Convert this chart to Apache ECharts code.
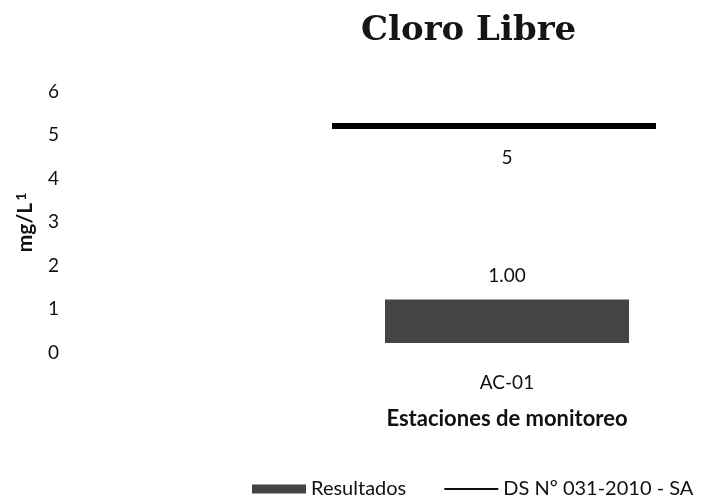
<!DOCTYPE html>
<html>
<head>
<meta charset="utf-8">
<script src="https://cdn.jsdelivr.net/npm/echarts@6/dist/echarts.min.js"></script>
<style>html,body{margin:0;padding:0;background:#fff}#c{width:705px;height:499px}</style>
</head>
<body>
<div id="c"></div>
<script>
var categories = ['AC-01'];
var resultados = [1.00];
var limite = [5];
var yTicks = [0, 1, 2, 3, 4, 5, 6];

var chart = echarts.init(document.getElementById('c'), null, {renderer: 'canvas'});
var FONT = 'Lato';
chart.setOption({
  animation: false,
  backgroundColor: '#ffffff',
  title: {
    text: 'Cloro Libre',
    left: 356,
    top: 9,
    textStyle: {fontFamily: 'DejaVu Serif', fontWeight: 'bold', fontSize: 34, color: '#151515'}
  },
  legend: {
    left: 247,
    top: 474,
    width: 458,
    itemWidth: 54,
    itemHeight: 9,
    itemGap: 37,
    textStyle: {fontFamily: FONT, fontSize: 20, color: '#111'},
    data: [
      {name: 'Resultados', icon: 'rect'},
      {name: 'DS Nº 031-2010 - SA', itemStyle: {color: 'rgba(0,0,0,0)', borderWidth: 0}}
    ]
  },
  grid: {left: 332, right: 23, top: 82, bottom: 156},
  xAxis: {
    type: 'category',
    data: categories,
    axisLine: {show: false},
    axisTick: {show: false},
    axisLabel: {margin: 30, fontFamily: FONT, fontSize: 19, color: '#111'},
    name: 'Estaciones de monitoreo',
    nameLocation: 'middle',
    nameGap: 65,
    nameTextStyle: {fontFamily: FONT, fontWeight: 'bold', fontSize: 22, color: '#111'}
  },
  yAxis: {
    type: 'value',
    min: 0,
    max: 6,
    interval: 1,
    splitLine: {show: false},
    axisLine: {show: false},
    axisTick: {show: false},
    axisLabel: {
      margin: 273, fontFamily: FONT, fontSize: 19, color: '#111', verticalAlign: 'top',
      formatter: function (v) { return yTicks.indexOf(v) >= 0 ? String(v) : ''; }
    },
    name: '{a|mg/L}{s|1}',
    nameLocation: 'middle',
    nameGap: 295,
    nameRotate: 90,
    nameTextStyle: {
      padding: [0, 20, 0, 0],
      rich: {
        a: {fontFamily: FONT, fontWeight: 'bold', fontSize: 21, color: '#111'},
        s: {fontFamily: FONT, fontWeight: 'bold', fontSize: 14, color: '#111', verticalAlign: 'top', padding: [0, 0, 9, 2]}
      }
    }
  },
  series: [
    {
      name: 'Resultados',
      type: 'bar',
      data: resultados,
      barWidth: 244,
      itemStyle: {color: '#444444'},
      label: {
        show: true, position: 'top', distance: 14,
        fontFamily: FONT, fontSize: 19, color: '#111',
        formatter: function (p) { return p.value.toFixed(2); }
      }
    },
    {
      name: 'DS Nº 031-2010 - SA',
      type: 'line',
      data: limite,
      symbol: 'circle',
      symbolSize: 0,
      lineStyle: {color: '#111', width: 2},
      itemStyle: {color: '#111'},
      label: {
        show: true, position: 'bottom', distance: 23,
        fontFamily: FONT, fontSize: 19, color: '#111'
      },
      markLine: {
        silent: true,
        symbol: 'none',
        label: {show: false},
        lineStyle: {color: '#000', width: 6, type: 'solid'},
        data: [[{x: 332, yAxis: limite[0]}, {x: 656, yAxis: limite[0]}]]
      }
    }
  ]
});
</script>
</body>
</html>
